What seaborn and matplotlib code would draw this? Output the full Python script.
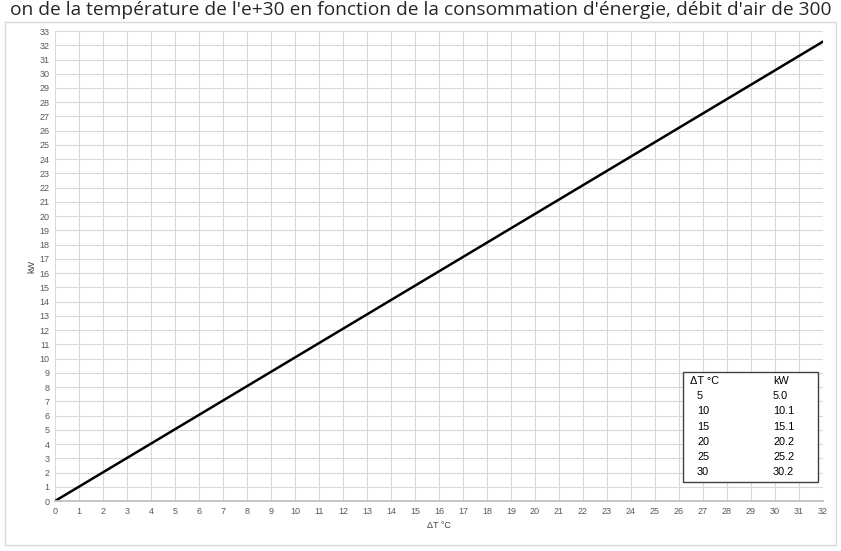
import numpy as np
import pandas as pd
import seaborn as sns
import matplotlib.pyplot as plt
from matplotlib.patches import Rectangle

# data
delta_t = [0, 5, 10, 15, 20, 25, 30, 32]
kw = [0.0, 5.04, 10.08, 15.12, 20.16, 25.2, 30.24, 32.26]

table_dt = ["5", "10", "15", "20", "25", "30"]
table_kw = ["5.0", "10.1", "15.1", "20.2", "25.2", "30.2"]

title = "on de la température de l'e+30 en fonction de la consommation d'énergie, débit d'air de 300"

sns.set_theme(style="white")
plt.rcParams['font.family'] = ['Liberation Sans', 'DejaVu Sans']

fig = plt.figure(figsize=(8.41, 5.51), dpi=100)
ax = fig.add_axes([0.0654, 0.0907, 0.9132, 0.853])

df = pd.DataFrame({"dt": delta_t, "kw": kw})
sns.lineplot(data=df, x="dt", y="kw", ax=ax, color="black", linewidth=1.8)

ax.set_xlim(0, 32)
ax.set_ylim(0, 33)
ax.set_xticks(range(0, 33))
ax.set_yticks(range(0, 34))
ax.grid(True, color="#d9d9d9", linewidth=0.8)
ax.tick_params(axis="both", labelsize=6.5, colors="#595959", length=0, pad=4)
for s in ["top", "right", "left"]:
    ax.spines[s].set_visible(False)
ax.spines["bottom"].set_color("#bfbfbf")
ax.set_xlabel("ΔT °C", fontsize=6.5, color="#404040", labelpad=4)
ax.set_ylabel("kW", fontsize=6.5, color="#404040", labelpad=2)

# outer frame
fig.patches.append(Rectangle((5 / 841, 1 - 545 / 551), 831 / 841, 523 / 551,
                             transform=fig.transFigure, fill=False,
                             edgecolor="#d9d9d9", linewidth=1))

# title
fig.text(0.5, 1 - 10 / 551, title, ha="center", va="center", fontsize=13.8,
         color="#262626", family=["Open Sans", "DejaVu Sans"])

# value table box
x0, x1 = 683 / 841, 818 / 841
y0, y1 = 1 - 482 / 551, 1 - 372 / 551
fig.patches.append(Rectangle((x0, y0), x1 - x0, y1 - y0, transform=fig.transFigure,
                             facecolor="white", edgecolor="#404040", linewidth=1, zorder=5))
row_h = 15.2 / 551
ytop = 1 - 381 / 551
fs = 7.8
fig.text(690 / 841, ytop, "ΔT °C", fontsize=fs, color="black", va="center", zorder=6)
fig.text(773 / 841, ytop, "kW", fontsize=fs, color="black", va="center", zorder=6)
for i, (a, b) in enumerate(zip(table_dt, table_kw)):
    y = ytop - (i + 1) * row_h
    fig.text(697 / 841, y, a, fontsize=fs, color="black", va="center", zorder=6)
    fig.text(773 / 841, y, b, fontsize=fs, color="black", va="center", zorder=6)

fig.savefig("out.png", dpi=100)
